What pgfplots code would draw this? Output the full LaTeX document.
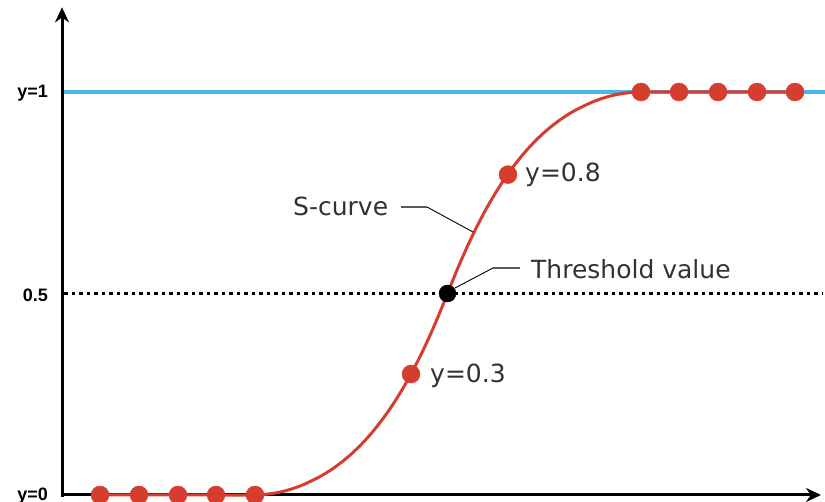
\documentclass[border=0pt]{standalone}
\usepackage{pgfplots}
\pgfplotsset{compat=1.18}
\usetikzlibrary{arrows.meta}
\usepackage{fontspec}
\setmainfont{DejaVu Sans}
\newfontfamily\tickfont{Liberation Sans}
\definecolor{sblue}{RGB}{77,182,232}
\definecolor{sred}{RGB}{213,61,46}
\definecolor{txt}{RGB}{50,50,50}
\begin{document}
\begin{tikzpicture}
\begin{axis}[
  name=ax,
  scale only axis,
  width=825pt, height=502pt,
  xmin=0, xmax=825,
  ymin=-0.01737, ymax=1.22829,
  axis lines=none,
  clip=false,
]
% reference lines
\addplot[sblue, line width=4pt] coordinates {(62,1) (825,1)};
\addplot[black, line width=3pt, dash pattern=on 3.5pt off 4pt] coordinates {(64,0.5) (822,0.5)};
% axes
\draw[black, line width=3pt, -{Stealth[length=15pt,width=14pt]}] (axis cs:60.5,0) -- (axis cs:821,0);
\draw[black, line width=3pt, -{Stealth[length=15pt,width=14pt]}] (axis cs:62,-0.004) -- (axis cs:62,1.21);
% S-curve
\addplot[sred, line width=3pt, smooth] coordinates {
 (100,0) (139,0) (178,0) (216,0) (255,0)
 (264.625,0.0015) (274.25,0.0045) (283.875,0.0095) (293.5,0.0165) (303.125,0.0255)
 (312.75,0.0365) (322.375,0.049) (332,0.064) (341.625,0.0815) (351.25,0.1015)
 (360.875,0.1245) (370.5,0.1505) (380.125,0.180) (389.75,0.213) (399.375,0.250)
 (409,0.291) (418.625,0.3365) (428.25,0.3865) (437.875,0.441) (447.5,0.5)
 (457.125,0.559) (466.75,0.6135) (476.375,0.6635) (486,0.709) (495.625,0.750)
 (505.25,0.787) (514.875,0.820) (524.5,0.8495) (534.125,0.8755) (543.75,0.8985)
 (553.375,0.9185) (563,0.936) (572.625,0.951) (582.25,0.9635) (591.875,0.9745)
 (601.5,0.9835) (611.125,0.9905) (620.75,0.9955) (630.375,0.9985) (640,1)
 (679,1) (718,1) (757,1) (795,1)};
% red points
\addplot[only marks, mark=*, mark size=9pt, sred, mark options={fill=sred, draw=sred}] coordinates {
 (100,0) (139,0) (178,0) (216,0) (255,0)
 (411,0.3) (508,0.795)
 (641,1) (679,1) (718,1) (757,1) (795,1)};
% threshold point
\addplot[only marks, mark=*, mark size=8.5pt, black] coordinates {(447.5,0.5)};
% leader lines
\draw[txt!80, line width=1.4pt] (axis cs:401,0.7146) -- (axis cs:427,0.7146);
\draw[black, line width=0.9pt] (axis cs:427,0.7146) -- (axis cs:473,0.6526);
\draw[txt!80, line width=1.4pt] (axis cs:493,0.5633) -- (axis cs:520,0.5633);
\draw[black, line width=0.9pt] (axis cs:493,0.5633) -- (axis cs:455,0.5136);
% tick labels
\node[anchor=base east, inner sep=0pt, font=\tickfont\bfseries\fontsize{18}{20}\selectfont] at (axis cs:48,0.986) {y=1};
\node[anchor=base east, inner sep=0pt, font=\tickfont\bfseries\fontsize{18}{20}\selectfont] at (axis cs:48,0.481) {0.5};
\node[anchor=base east, inner sep=0pt, font=\tickfont\bfseries\fontsize{18}{20}\selectfont] at (axis cs:48,-0.0141) {y=0};
% annotations
\node[anchor=base west, inner sep=0pt, text=txt, font=\fontsize{25}{28}\selectfont] at (axis cs:293,0.6923) {S-curve};
\node[anchor=base west, inner sep=0pt, text=txt, font=\fontsize{25}{28}\selectfont] at (axis cs:531,0.5377) {Threshold value};
\node[anchor=base west, inner sep=0pt, text=txt, font=\fontsize{25}{28}\selectfont] at (axis cs:525,0.7775) {y=0.8};
\node[anchor=base west, inner sep=0pt, text=txt, font=\fontsize{25}{28}\selectfont] at (axis cs:430,0.2787) {y=0.3};
\end{axis}
\pgfresetboundingbox
\useasboundingbox (ax.south west) rectangle (ax.north east);
\end{tikzpicture}
\end{document}
